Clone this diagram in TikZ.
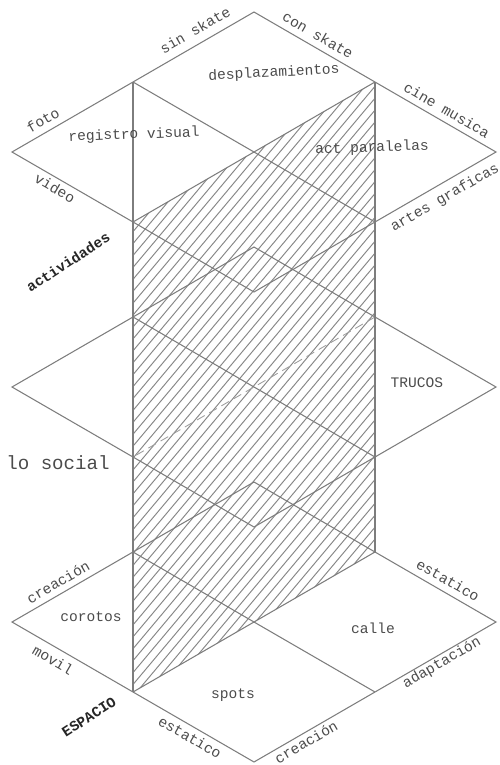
\documentclass[tikz,border=0pt]{standalone}
\usepackage{fontspec}
\setmonofont{Liberation Mono}
\usetikzlibrary{positioning}
\definecolor{linegray}{RGB}{125,125,125}
\definecolor{hatchgray}{RGB}{135,135,135}
\definecolor{textgray}{RGB}{75,75,75}

\begin{document}
\begin{tikzpicture}[x=0.02cm, y=-0.02cm,
  edge/.style={draw=linegray, line width=0.6pt},
  hid/.style={draw=linegray!75, line width=0.5pt, dash pattern=on 5pt off 3pt},
  hatch/.style={draw=hatchgray, line width=0.55pt},
  lbl/.style={font=\ttfamily\fontsize{8.3}{9}\selectfont, text=textgray, inner sep=1pt},
  axis/.style={font=\ttfamily\bfseries\fontsize{8.3}{9}\selectfont, text=black!85, inner sep=1pt}
]
\useasboundingbox (0,0) rectangle (500,765);

% three layers: s = top, m = middle, b = bottom
\foreach \k/\y in {s/12, m/247, b/482} {
  \coordinate (\k T) at (254,\y);
  \coordinate (\k R) at (496,\y+140);
  \coordinate (\k B) at (254,\y+280);
  \coordinate (\k L) at (12,\y+140);
  \coordinate (\k TL) at (133,\y+70);
  \coordinate (\k TR) at (375,\y+70);
  \coordinate (\k BR) at (375,\y+210);
  \coordinate (\k BL) at (133,\y+210);
}

% hatched vertical plane
\begin{scope}
  \clip (sTR) -- (sBL) -- (bBL) -- (bTR) -- cycle;
  \foreach \i in {-40,...,39}
    \draw[hatch] (\i*10,700) -- ++(600,-715);
\end{scope}

\foreach \k in {s,m,b} {
  \draw[edge] (\k T) -- (\k R) -- (\k B) -- (\k L) -- cycle;
  \draw[edge] (\k TL) -- (\k BR);
}
\draw[edge] (sTR) -- (sBL);
\draw[hid] (mTR) -- (mBL);
\draw[edge] (bTR) -- (bBL);
\draw[edge] (sTL) -- (bBL);
\draw[edge] (sTR) -- (bTR);

% top layer
\node[lbl, rotate=30] (sinsk) at (195,30) {sin skate};
\node[lbl, rotate=-30] (consk) at (318,35) {con skate};
\node[lbl, rotate=3] (despl) at (274,73) {desplazamientos};
\node[lbl, rotate=30] (foto) at (43,120) {foto};
\node[lbl, rotate=2] (regis) at (134,135) {registro visual};
\node[lbl, rotate=-30] (video) at (55,188) {video};
\node[lbl, rotate=-30] (cine) at (447,110) {cine musica};
\node[lbl, rotate=2] (actp) at (372,148) {act paralelas};
\node[lbl, rotate=30] (artes) at (445,198) {artes graficas};
\node[axis, rotate=33] (activ) at (68,262) {actividades};

% middle layer
\node[lbl] (trucos) at (417,383) {TRUCOS};
\node[lbl, font=\ttfamily\fontsize{10.9}{12}\selectfont] (social) at (58,463) {lo social};

% bottom layer
\node[lbl, rotate=30] (crea) at (58,582) {creación};
\node[lbl] (corotos) at (91,617) {corotos};
\node[lbl, rotate=-30] (movil) at (53,660) {movil};
\node[axis, rotate=33] (espacio) at (89,717) {ESPACIO};
\node[lbl, rotate=-30] (estat) at (190,737) {estatico};
\node[lbl] (spots) at (233,695) {spots};
\node[lbl] (calle) at (373,628) {calle};
\node[lbl, rotate=-30] (estatr) at (448,580) {estatico};
\node[lbl, rotate=30] (adapt) at (442,663) {adaptación};
\node[lbl, rotate=30] (creab) at (306,742) {creación};
\end{tikzpicture}
\end{document}
